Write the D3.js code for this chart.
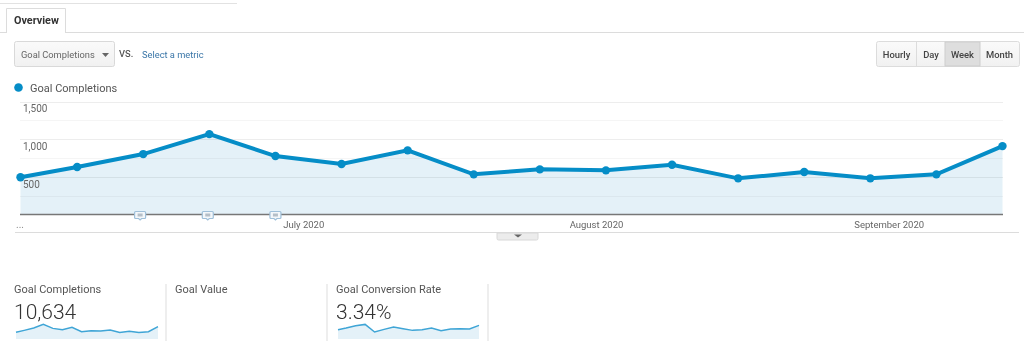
<!DOCTYPE html>
<html><head><meta charset="utf-8">
<script src="https://cdn.jsdelivr.net/npm/d3@7"></script>
<style>
html,body{margin:0;padding:0;background:#fff;overflow:hidden}
svg{display:block;filter:blur(.3px)}
text{font-family:Roboto,sans-serif}
</style></head><body>
<svg id="c" width="1024" height="360"></svg>
<script>
const weekStarts = ["2020-06-01","2020-06-07","2020-06-14","2020-06-21","2020-06-28","2020-07-05","2020-07-12","2020-07-19","2020-07-26","2020-08-02","2020-08-09","2020-08-16","2020-08-23","2020-08-30","2020-09-06","2020-09-13"];
const goalCompletions = [495,630,802,1067,776,670,851,533,599,586,660,480,564,480,533,908];
const conversionRate = [2.96,3.49,4.22,4.65,2.22,3.06,3.80,3.27,2.75,2.96,3.48,2.64,3.17,3.27,3.17,4.33];
const yTicks = [500,1000,1500];
const gridValues = [250,500,750,1000,1250,1500];
const monthTicks = ["2020-07-01","2020-08-01","2020-09-01"];
const annotationTimes = ["2020-06-13T16:00:00Z","2020-06-20T20:00:00Z","2020-06-28T00:00:00Z"];
const buttons = ["Hourly","Day","Week","Month"];
const scorecards = [
 {label:"Goal Completions",value:"10,634"},
 {label:"Goal Value",value:""},
 {label:"Goal Conversion Rate",value:"3.34%"}
];

const parse = d3.utcParse("%Y-%m-%d");
const dates = weekStarts.map(parse);
const svg = d3.select("#c");
const BLUE="#058dc7", FILL="#e4f1f8";

const x = d3.scaleUtc().domain([dates[0],dates[dates.length-1]]).range([20.5,1002.5]);
const y = d3.scaleLinear().domain([0,1500]).range([214.5,101.5]);

// page chrome
svg.append("rect").attr("x",0).attr("y",3).attr("width",237).attr("height",1).attr("fill","#e2e2e2");
svg.append("rect").attr("x",0).attr("y",32).attr("width",1024).attr("height",1).attr("fill","#dcdcdc");
svg.append("path").attr("d","M6.5,33V8.5H65.5V33").attr("fill","#fff").attr("stroke","#dcdcdc");
svg.append("text").attr("x",14).attr("y",24).attr("font-size",10.8).attr("font-weight",700).attr("fill","#333").text("Overview");

// metric select
const grad = svg.append("defs").append("linearGradient").attr("id","btn").attr("x1",0).attr("x2",0).attr("y1",0).attr("y2",1);
grad.append("stop").attr("offset",0).attr("stop-color","#fafafa");
grad.append("stop").attr("offset",1).attr("stop-color","#f1f1f1");
svg.append("rect").attr("x",14.5).attr("y",41.5).attr("width",100).attr("height",25).attr("rx",2).attr("fill","url(#btn)").attr("stroke","#d9d9d9");
svg.append("text").attr("x",21).attr("y",58).attr("font-size",9.3).attr("fill","#666").text("Goal Completions");
svg.append("path").attr("d","M102,53H109L105.5,57Z").attr("fill","#666");
svg.append("text").attr("x",119).attr("y",56.5).attr("font-size",9.3).attr("font-weight",500).attr("fill","#555").text("VS.");
svg.append("text").attr("x",142).attr("y",58).attr("font-size",9.3).attr("fill","#3a76a8").text("Select a metric");

// period buttons
const btnEdges=[876.5,916.5,945.5,979.5,1019.5];
const bg=svg.append("g");
bg.append("rect").attr("x",876.5).attr("y",41.5).attr("width",143).attr("height",25).attr("rx",2).attr("fill","url(#btn)").attr("stroke","#dcdcdc");
bg.append("rect").attr("x",945).attr("y",42).attr("width",35).attr("height",24).attr("fill","#dedede").attr("stroke","#cdcdcd");
bg.append("line").attr("x1",916.5).attr("x2",916.5).attr("y1",42).attr("y2",66).attr("stroke","#dcdcdc");
buttons.forEach((b,i)=>bg.append("text").attr("x",(btnEdges[i]+btnEdges[i+1])/2).attr("y",58).attr("text-anchor","middle").attr("font-size",9.4).attr("font-weight",500).attr("fill","#444").text(b));

// legend
svg.append("circle").attr("cx",18.5).attr("cy",87.5).attr("r",4.3).attr("fill",BLUE);
svg.append("text").attr("x",30).attr("y",91.5).attr("font-size",11).attr("fill","#555").text("Goal Completions");

// plot
const area=d3.area().x((d,i)=>x(dates[i])).y0(y(0)).y1(d=>y(d));
const line=d3.line().x((d,i)=>x(dates[i])).y(d=>y(d));
svg.append("path").datum(goalCompletions).attr("d",area).attr("fill",FILL);
svg.selectAll(".grid").data(gridValues).join("line").attr("class","grid")
 .attr("x1",20).attr("x2",1003).attr("y1",d=>Math.round(y(d))+.5).attr("y2",d=>Math.round(y(d))+.5)
 .attr("stroke","#000").attr("stroke-opacity",d=>d%500==0?.07:.04);
svg.append("line").attr("x1",20).attr("x2",1003).attr("y1",214.5).attr("y2",214.5).attr("stroke","#777").attr("stroke-width",1.6);
svg.append("path").datum(goalCompletions).attr("d",line).attr("fill","none").attr("stroke",BLUE).attr("stroke-width",4);
svg.selectAll(".pt").data(goalCompletions).join("circle").attr("class","pt")
 .attr("cx",(d,i)=>x(dates[i])).attr("cy",d=>y(d)).attr("r",4.2).attr("fill",BLUE);

// y labels
svg.selectAll(".yl").data(yTicks).join("text").attr("class","yl")
 .attr("x",23).attr("y",d=>y(d)+10.7).attr("font-size",10).attr("fill","#666")
 .text(d=>d3.format(",")(d));

// annotation markers
const ann=svg.selectAll(".ann").data(annotationTimes).join("g").attr("class","ann")
 .attr("transform",d=>`translate(${x(d3.isoParse(d))},0)`);
ann.append("path").attr("d","M-4.5,211.5H4.5Q5.5,211.5 5.5,212.5V217.5Q5.5,218.5 4.5,218.5H1.5L0,220L-1.5,218.5H-4.5Q-5.5,218.5 -5.5,217.5V212.5Q-5.5,211.5 -4.5,211.5Z").attr("fill","#f3f7fa").attr("stroke","#9fc0da").attr("stroke-width",1.2);
ann.append("rect").attr("x",-2.5).attr("y",213.5).attr("width",5).attr("height",3).attr("fill","#b5bfc8");

// x labels
svg.selectAll(".xl").data(monthTicks).join("text").attr("class","xl")
 .attr("x",d=>x(parse(d))).attr("y",228).attr("text-anchor","middle").attr("font-size",9.5).attr("fill","#666")
 .text(d=>d3.utcFormat("%B %Y")(parse(d)));
svg.append("text").attr("x",16).attr("y",228).attr("font-size",10).attr("fill","#888").text("...");

// divider + expander
svg.append("rect").attr("x",15).attr("y",232).attr("width",1004).attr("height",1).attr("fill","#dcdcdc");
svg.append("path").attr("d","M497,233H538V238.5Q538,240 536.5,240H498.5Q497,240 497,238.5Z").attr("fill","#ececec").attr("stroke","#d8d8d8");
svg.append("path").attr("d","M514,234.5H522L518,237.5Z").attr("fill","#666");

// scorecards
const cardX=[14,175,336];
scorecards.forEach((c,i)=>{
 svg.append("text").attr("x",cardX[i]).attr("y",293).attr("font-size",11).attr("fill","#555").text(c.label);
 if(c.value) svg.append("text").attr("x",cardX[i]).attr("y",318.5).attr("font-size",21).attr("font-weight",300).attr("fill","#333").text(c.value);
});
[166,327,488].forEach(e=>svg.append("rect").attr("x",e-.5).attr("y",284).attr("width",1).attr("height",57).attr("fill","#dedede"));

function spark(vals,x0,x1,y0,y1,dmin,dmax){
 const sx=d3.scaleUtc().domain(d3.extent(dates)).range([x0,x1]);
 const sy=d3.scaleLinear().domain([dmin,dmax]).range([y0,y1]);
 svg.append("path").datum(vals).attr("d",d3.area().x((d,i)=>sx(dates[i])).y0(y0).y1(d=>sy(d))).attr("fill",FILL);
 svg.append("path").datum(vals).attr("d",d3.line().x((d,i)=>sx(dates[i])).y(d=>sy(d))).attr("fill","none").attr("stroke","#3fa5d6").attr("stroke-width",1.5);
}
spark(goalCompletions,16,158,339,324.4,0,1067);
spark(conversionRate,338,479,339,324.4,0,4.65);
</script></body></html>
